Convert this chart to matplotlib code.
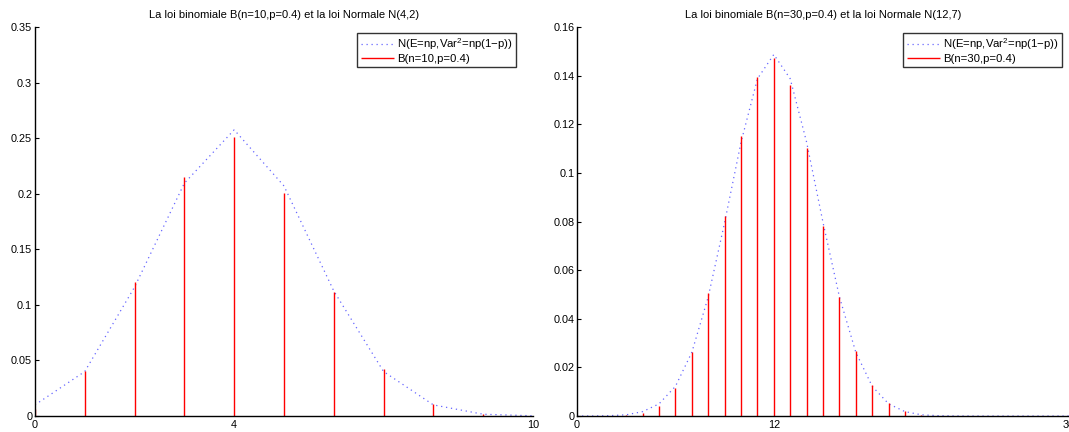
import matplotlib
matplotlib.use("Agg")
import matplotlib.pyplot as plt

plt.rcParams['font.family'] = ['Liberation Sans', 'DejaVu Sans']
plt.rcParams['mathtext.fontset'] = 'custom'
plt.rcParams['mathtext.rm'] = 'Liberation Sans'
plt.rcParams['mathtext.it'] = 'Liberation Sans:italic'

# B(n=10, p=0.4) and its normal approximation, evaluated at k = 0..10
k10 = list(range(11))
binom10 = [0.0060, 0.0403, 0.1209, 0.2150, 0.2508, 0.2007, 0.1115, 0.0425,
           0.0106, 0.0016, 0.0001]
normal10 = [0.0100, 0.0400, 0.1160, 0.2095, 0.2575, 0.2070, 0.1125, 0.0400,
            0.0100, 0.0016, 0.0002]

# B(n=30, p=0.4) and its normal approximation, evaluated at k = 0..30
k30 = list(range(31))
binom30 = [0.0, 0.0, 0.00001, 0.0003, 0.0012, 0.0041, 0.0115, 0.0263,
           0.0505, 0.0823, 0.1152, 0.1396, 0.1474, 0.1360, 0.1101, 0.0783,
           0.0489, 0.0269, 0.0129, 0.0054, 0.0020, 0.0006, 0.0002, 0.00004,
           0.0, 0.0, 0.0, 0.0, 0.0, 0.0, 0.0]
normal30 = [0.00001, 0.00003, 0.00014, 0.0005, 0.0018, 0.0050, 0.0122, 0.0262,
            0.0490, 0.0796, 0.1126, 0.1387, 0.1487, 0.1387, 0.1126, 0.0796,
            0.0490, 0.0262, 0.0122, 0.0050, 0.0018, 0.0005, 0.00014, 0.00003,
            0.00001, 0.0, 0.0, 0.0, 0.0, 0.0, 0.0]

titles = ["La loi binomiale B(n=10,p=0.4) et la loi Normale N(4,2)",
          "La loi binomiale B(n=30,p=0.4) et la loi Normale N(12,7)"]
binom_labels = ["B(n=10,p=0.4)", "B(n=30,p=0.4)"]
normal_label = "N(E=np,Var$^2$=np(1\u2212p))"
xticks = [[0, 4, 10], [0, 12, 30]]
yticks = [[0, 0.05, 0.1, 0.15, 0.2, 0.25, 0.3, 0.35],
          [0, 0.02, 0.04, 0.06, 0.08, 0.1, 0.12, 0.14, 0.16]]
ytick_labels = [["0", "0.05", "0.1", "0.15", "0.2", "0.25", "0.3", "0.35"],
                ["0", "0.02", "0.04", "0.06", "0.08", "0.1", "0.12", "0.14", "0.16"]]
xlims = [(0, 10), (0, 30)]
ylims = [(0, 0.35), (0, 0.16)]
legend_anchor_x = [0.966, 0.986]

fig = plt.figure(figsize=(10.69, 4.32), dpi=100)
ax1 = fig.add_axes([0.0327, 0.037, 0.4659, 0.9005])
ax2 = fig.add_axes([0.5398, 0.037, 0.4602, 0.9005])

data = [(k10, binom10, normal10), (k30, binom30, normal30)]
for i, ax in enumerate([ax1, ax2]):
    k, b, nrm = data[i]
    ax.plot(k, nrm, linestyle=(0, (1, 3)), color='#3333ff', lw=0.9,
            alpha=0.75, label=normal_label)
    ax.vlines(k, 0, b, colors='red', lw=1.0, label=binom_labels[i])
    ax.set_xlim(*xlims[i])
    ax.set_ylim(*ylims[i])
    ax.set_xticks(xticks[i])
    ax.set_xticklabels([str(v) for v in xticks[i]])
    ax.set_yticks(yticks[i])
    ax.set_yticklabels(ytick_labels[i])
    ax.tick_params(direction='in', length=3, width=0.8, labelsize=7.8,
                   colors='black', pad=2)
    ax.tick_params(axis='x', length=0, pad=3)
    for side in ['top', 'right']:
        ax.spines[side].set_visible(False)
    for side in ['left', 'bottom']:
        ax.spines[side].set_linewidth(1.0)
    ax.set_title(titles[i], fontsize=8, pad=6.5)
    leg = ax.legend(loc='upper right',
                    bbox_to_anchor=(legend_anchor_x[i], 0.985),
                    fontsize=8.2, frameon=True, fancybox=False,
                    handlelength=2.9, handletextpad=0.25, borderpad=0.3,
                    labelspacing=0.15, borderaxespad=0)
    leg.get_frame().set_edgecolor('black')
    leg.get_frame().set_linewidth(1.0)

fig.savefig("out.png", dpi=100)
